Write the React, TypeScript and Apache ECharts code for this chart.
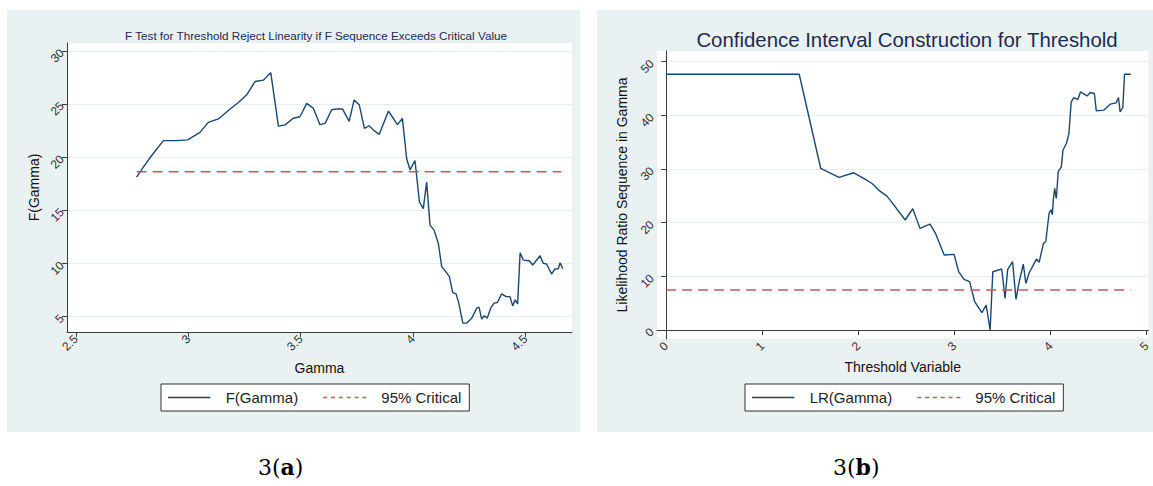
import React, { useEffect, useRef } from "react";
import * as echarts from "echarts";

// ---- Panel (a): F test sequence ----
const fGammaX = [
  2.770, 2.800, 2.837, 2.889, 2.948, 2.997, 3.052, 3.089, 3.134, 3.186, 3.223, 3.260, 3.297, 3.334, 3.367,
  3.401, 3.431, 3.467, 3.497, 3.527, 3.557, 3.586, 3.609, 3.638, 3.661, 3.687, 3.716, 3.738, 3.761, 3.784,
  3.805, 3.827, 3.850, 3.891, 3.931, 3.953, 3.972, 3.987, 4.009, 4.029, 4.046, 4.061, 4.076, 4.094, 4.113,
  4.128, 4.146, 4.162, 4.177, 4.192, 4.204, 4.222, 4.240, 4.262, 4.284, 4.294, 4.306, 4.318, 4.331, 4.346,
  4.361, 4.376, 4.395, 4.415, 4.432, 4.444, 4.455, 4.466, 4.477, 4.491, 4.518, 4.533, 4.566, 4.580, 4.595,
  4.617, 4.632, 4.647, 4.655, 4.667,
];
const fGammaY = [
  18.12, 19.06, 20.16, 21.56, 21.56, 21.63, 22.34, 23.28, 23.60, 24.53, 25.15, 25.87, 27.12, 27.25, 27.96,
  22.92, 23.04, 23.67, 23.81, 25.06, 24.59, 23.06, 23.18, 24.47, 24.53, 24.53, 23.37, 25.37, 24.93, 22.71,
  22.96, 22.50, 22.15, 24.34, 23.06, 23.65, 19.85, 18.81, 19.69, 15.78, 15.16, 17.65, 13.60, 13.13, 11.88,
  9.69, 9.22, 8.75, 7.25, 7.13, 6.26, 4.38, 4.38, 4.85, 5.79, 5.88, 4.76, 5.07, 4.85, 5.79,
  6.26, 6.32, 7.13, 6.87, 6.87, 6.00, 6.57, 6.19, 11.00, 10.31, 10.25, 9.85, 10.72, 10.00, 9.94,
  9.00, 9.47, 9.50, 10.06, 9.50,
];
const fCriticalValue = 18.63;
const fXTicks = [2.5, 3, 3.5, 4, 4.5];
const fYTicks = [5, 10, 15, 20, 25, 30];

// ---- Panel (b): LR sequence ----
const lrX = [
  0, 1.384, 1.608, 1.798, 1.952, 2.073, 2.142, 2.211, 2.297, 2.331, 2.487, 2.566, 2.641, 2.745, 2.803,
  2.893, 2.996, 3.044, 3.099, 3.158, 3.210, 3.285, 3.330, 3.371, 3.399, 3.492, 3.526, 3.554, 3.605, 3.640,
  3.674, 3.716, 3.743, 3.778, 3.853, 3.881, 3.926, 3.950, 3.985, 4.003, 4.018, 4.030, 4.043, 4.060, 4.080,
  4.112, 4.129, 4.166, 4.191, 4.215, 4.242, 4.284, 4.311, 4.380, 4.414, 4.456, 4.476, 4.553, 4.621, 4.683,
  4.707, 4.724, 4.752, 4.770, 4.835,
];
const lrY = [
  47.67, 47.67, 30.10, 28.43, 29.30, 28.06, 27.30, 26.07, 24.95, 24.20, 20.50, 22.60, 18.94, 19.74, 18.00,
  13.97, 14.10, 10.86, 9.43, 9.00, 5.27, 3.23, 4.66, 0.00, 10.86, 11.36, 5.90, 11.30, 12.72, 5.72,
  9.00, 12.29, 8.70, 10.67, 13.22, 12.60, 16.15, 16.45, 21.80, 22.40, 21.50, 24.50, 26.40, 24.50, 29.50,
  30.40, 33.50, 34.80, 36.60, 42.50, 43.30, 42.96, 44.37, 43.63, 44.26, 44.08, 40.84, 40.97, 42.09, 42.33,
  43.33, 40.66, 41.47, 47.67, 47.67,
];
const lrCriticalValue = 7.45;
const lrXTicks = [0, 1, 2, 3, 4, 5];
const lrYTicks = [0, 10, 20, 30, 40, 50];

const LINE = "#1a476f";
const CRIT = "#c4585a";
const AXIS = "#3c3c3c";
const GRIDLINE = "#e6eef0";
const PANEL = "#eaf1f3";
const FONT = "'Liberation Sans', Arial, sans-serif";
const SERIF = "'DejaVu Serif', 'Liberation Serif', serif";

const SOLID_ICON = "path://M0,0H53V2H0Z";
const DASH_ICON =
  "path://M0,0h5v2h-5z M9.8,0h5v2h-5z M19.6,0h5v2h-5z M29.4,0h5v2h-5z M39.2,0h5v2h-5z M49,0h5v2h-5z";

function valueAxis(ticks: number[], min: number, max: number, gridIndex: number, split: boolean, name: string, nameGap: number) {
  return {
    type: "value",
    gridIndex,
    min,
    max,
    name,
    nameLocation: "middle",
    nameGap,
    nameTextStyle: { fontSize: 14, color: "#111", fontFamily: FONT },
    axisLine: { show: true, lineStyle: { color: AXIS, width: 1 } },
    axisTick: { show: true, length: 5, customValues: ticks, lineStyle: { color: AXIS, width: 1 } },
    axisLabel: { customValues: ticks, rotate: 45, fontSize: 12, color: "#333", fontFamily: FONT, margin: 5 },
    splitLine: { show: split, lineStyle: { color: GRIDLINE, width: 1 } },
  };
}

function legendBox(left: number, first: string) {
  return {
    left, top: 384, orient: "horizontal",
    data: [
      { name: first, icon: SOLID_ICON },
      { name: "95% Critical", icon: DASH_ICON },
    ],
    backgroundColor: "#fff", borderColor: "#333", borderWidth: 1, borderRadius: 0,
    padding: [6, 8, 6, 7], itemWidth: 53, itemHeight: 1.6, itemGap: 25,
    textStyle: { fontSize: 15, color: "#222", fontFamily: FONT, padding: [0, 0, 0, 5] },
    selectedMode: false,
  };
}

function caption(left: number, letter: string) {
  return {
    type: "text", left, top: 456,
    style: {
      text: `{n|3(}{b|${letter}}{n|)}`,
      rich: {
        n: { fontFamily: SERIF, fontSize: 22, fill: "#000" },
        b: { fontFamily: SERIF, fontSize: 22, fontWeight: "bold", fill: "#000" },
      },
    },
  };
}

export default function App() {
  const ref = useRef<HTMLDivElement>(null);
  useEffect(() => {
    const chart = echarts.init(ref.current!, null, { renderer: "svg" });
    const fData = fGammaX.map((x, i) => [x, fGammaY[i]]);
    const fCrit = [[fGammaX[0], fCriticalValue], [fGammaX[fGammaX.length - 1] - 0.007, fCriticalValue]];
    const lrData = lrX.map((x, i) => [x, lrY[i]]);
    const lrCrit = [[lrX[0], lrCriticalValue], [lrX[lrX.length - 1], lrCriticalValue]];

    chart.setOption({
      animation: false,
      textStyle: { fontFamily: FONT },
      graphic: [
        { type: "rect", z: -10, shape: { x: 7, y: 10, width: 573, height: 422 }, style: { fill: PANEL } },
        { type: "rect", z: -10, shape: { x: 597, y: 10, width: 556, height: 422 }, style: { fill: PANEL } },
        caption(258, "a"),
        caption(833, "b"),
      ],
      title: [
        {
          text: "F Test for Threshold Reject Linearity if F Sequence Exceeds Critical Value",
          left: 311, top: 24, textAlign: "center",
          textStyle: { fontSize: 11.7, fontWeight: "normal", color: "#1e2b52", fontFamily: FONT },
        },
        {
          text: "Confidence Interval Construction for Threshold",
          left: 902, top: 25, textAlign: "center",
          textStyle: { fontSize: 20.4, fontWeight: "normal", color: "#1e2b52", fontFamily: FONT },
        },
      ],
      grid: [
        { left: 67, top: 43, width: 505, height: 289, show: true, backgroundColor: "#fff", borderWidth: 0 },
        { left: 657, top: 51, width: 495, height: 288, show: true, backgroundColor: "#fff", borderWidth: 0 },
      ],
      xAxis: [
        valueAxis(fXTicks, 2.46, 4.708, 0, false, "Gamma", 29),
        valueAxis(lrXTicks, -0.096, 5.018, 1, false, "Threshold Variable", 20),
      ],
      yAxis: [
        valueAxis(fYTicks, 3.54, 30.75, 0, true, "F(Gamma)", 26),
        valueAxis(lrYTicks, -1.68, 52.0, 1, true, "Likelihood Ratio Sequence in Gamma", 28),
      ],
      legend: [legendBox(161, "F(Gamma)"), legendBox(745, "LR(Gamma)")],
      series: [
        {
          name: "F(Gamma)", type: "line", xAxisIndex: 0, yAxisIndex: 0, data: fData,
          symbol: "none", lineStyle: { color: LINE, width: 1.4 }, itemStyle: { color: LINE },
        },
        {
          name: "95% Critical", type: "line", xAxisIndex: 0, yAxisIndex: 0, data: fCrit,
          symbol: "none", lineStyle: { color: CRIT, width: 1.4, type: [10, 6] }, itemStyle: { color: CRIT },
        },
        {
          name: "LR(Gamma)", type: "line", xAxisIndex: 1, yAxisIndex: 1, data: lrData,
          symbol: "none", lineStyle: { color: LINE, width: 1.4 }, itemStyle: { color: LINE },
        },
        {
          name: "95% Critical", type: "line", xAxisIndex: 1, yAxisIndex: 1, data: lrCrit,
          symbol: "none", lineStyle: { color: CRIT, width: 1.4, type: [10, 6] }, itemStyle: { color: CRIT },
        },
      ],
    });
    return () => chart.dispose();
  }, []);
  return (
    <div
      ref={ref}
      style={{ position: "fixed", left: 0, top: 0, width: 1153, height: 486, background: "#fff" }}
    />
  );
}
